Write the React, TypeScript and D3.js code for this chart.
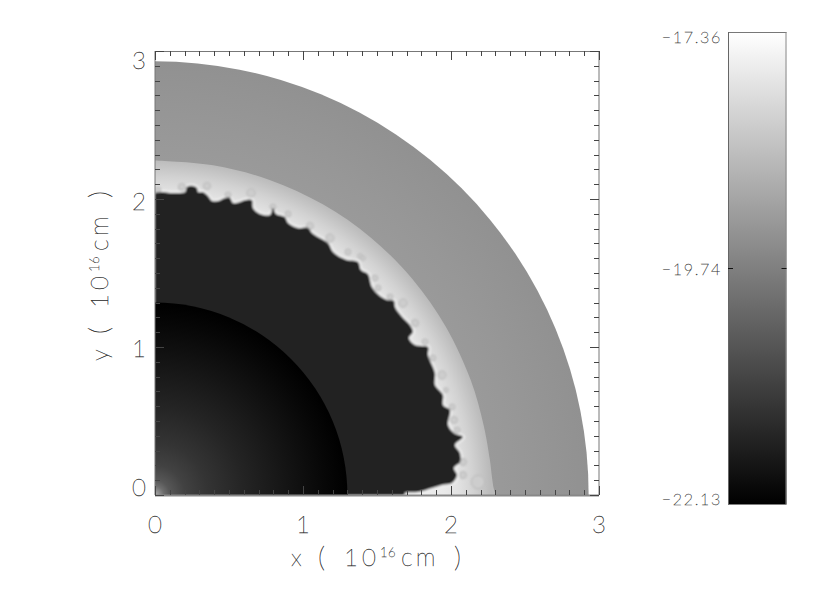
import React from "react";
import * as d3 from "d3";

// Colour bar range (log density)
const cbMin = -22.13;
const cbMax = -17.36;
const cbTicks = [-17.36, -19.74, -22.13];
const axisMajor = [0, 1, 2, 3];
const yTickBaseline = [1, 10, 11, 18];

// Outer envelope and shock
const outerRadius = 2.93;
const coreRadius = 1.3;
const shockAngleDeg = [0, 10, 20, 30, 40, 50, 60, 70, 78, 84, 87, 89, 90];
const shockRadius = [2.26, 2.262, 2.265, 2.268, 2.27, 2.27, 2.27, 2.27, 2.27, 2.275, 2.28, 2.29, 2.305];

// Radial profiles of log density
const coreR = [0, 0.03, 0.06, 0.1, 0.2, 0.35, 0.6, 0.9, 1.15, 1.3];
const coreV = [-18.9, -19.5, -20.1, -20.5, -20.9, -21.15, -21.45, -21.75, -22.0, -22.13];
const windR = [1.3, 1.55, 1.56, 2.1];
const windV = [-21.53, -21.52, -21.5, -21.48];
const shellR = [1.75, 1.95, 2.05, 2.15, 2.27];
const shellV = [-17.7, -17.75, -17.9, -18.2, -18.65];
const envR = [2.26, 2.5, 2.93];
const envV = [-19.25, -19.3, -19.42];

// Contact discontinuity
const contactX = [0, .054, .101, .155, .203, .216, .257, .284, .291, .324, .358, .385, .426, .473, .507, .527, .574, .608, .655, .662, .709, .777, .797, .818, .878, .899, .966, 1.034, 1.061, 1.101, 1.169, 1.203, 1.264, 1.297, 1.372, 1.392, 1.439, 1.466, 1.52, 1.568, 1.615, 1.622, 1.676, 1.723, 1.743, 1.716, 1.757, 1.845, 1.845, 1.892, 1.892, 1.946, 1.946, 1.993, 1.98, 2.02, 2.081, 2.027, 2.061, 2.061, 2.02, 2.041, 2.007, 1.939, 1.872, 1.777, 1.689, 1.689];
const contactY = [2.041, 2.047, 2.041, 2.041, 2.047, 2.081, 2.088, 2.074, 2.047, 2.047, 2.02, 1.986, 1.986, 2.007, 2.007, 1.973, 1.98, 1.993, 1.993, 1.939, 1.899, 1.892, 1.939, 1.899, 1.878, 1.838, 1.804, 1.804, 1.77, 1.743, 1.703, 1.642, 1.601, 1.588, 1.574, 1.52, 1.493, 1.405, 1.345, 1.318, 1.311, 1.27, 1.196, 1.149, 1.101, 1.061, 1.014, 1, .946, .824, .743, .676, .608, .574, .473, .419, .392, .338, .284, .223, .182, .135, .081, .068, .047, .02, .014, 0];

// Small eddies along the contact
const eddyX = [.02, .182, .351, .493, .649, .797, .899, 1.047, 1.182, 1.304, 1.385, 1.405, 1.486, 1.507, 1.588, 1.676, 1.757, 1.824, 1.878, 1.939, 1.966, 2.007, 2.02, 2.041, 2.081, 2.081, 2.182];
const eddyY = [2.06, 2.081, 2.088, 2.027, 2.041, 1.946, 1.899, 1.818, 1.736, 1.642, 1.615, 1.601, 1.466, 1.399, 1.338, 1.297, 1.162, 1.034, .926, .811, .709, .595, .507, .439, .223, .135, .088];
const eddyR = [.02, .024, .024, .02, .028, .02, .02, .024, .028, .02, .016, .016, .02, .02, .02, .028, .024, .02, .02, .028, .016, .02, .024, .02, .024, .024, .045];

const W = 830;
const H = 594;
const x = d3.scaleLinear().domain([0, 3]).range([155, 599]);
const y = d3.scaleLinear().domain([0, 3]).range([495, 51]);
const cbY = d3.scaleLinear().domain([cbMin, cbMax]).range([504.5, 32]);
const cbX = [728, 786.5];
const grey = d3.scaleLinear().domain([cbMin, cbMax]).range([0, 255]).clamp(true);
const col = (v: number) => { const g = Math.round(grey(v)); return `rgb(${g},${g},${g})`; };
const px = (r: number) => x(r) - x(0);

const thin = { fontFamily: "Lato, 'Open Sans', sans-serif", fontWeight: 100, fill: "#222", stroke: "#333", strokeWidth: 0.3 } as const;

const minor = d3.range(0, 3.0001, 0.1);

function Gradient({ id, rs, vs }: { id: string; rs: number[]; vs: number[] }) {
  const R = rs[rs.length - 1];
  return (
    <radialGradient id={id} gradientUnits="userSpaceOnUse" cx={x(0)} cy={y(0)} r={px(R)}>
      {rs.map((r, i) => <stop key={i} offset={r / R} stopColor={col(vs[i])} />)}
    </radialGradient>
  );
}

const labelParts = [
  { t: "x", o: 0, s: 24, d: 0, ls: 0 },
  { t: "(", o: 27, s: 28, d: 1, ls: 0 },
  { t: "10", o: 53, s: 24, d: 0, ls: 4 },
  { t: "16", o: 89, s: 13, d: -9, ls: 0.5 },
  { t: "cm", o: 110, s: 25, d: 0, ls: 3 },
  { t: ")", o: 163, s: 28, d: 1, ls: 0 },
];

export default function App() {
  const shockPts = shockAngleDeg.map((a, i) => {
    const t = a * Math.PI / 180;
    return [x(shockRadius[i] * Math.sin(t)), y(shockRadius[i] * Math.cos(t))] as [number, number];
  });
  const shock = d3.line().curve(d3.curveCatmullRom)(shockPts) + `L${x(0)},${y(0)}Z`;
  const contactPts = contactX.map((c, i) => [x(c), y(contactY[i])] as [number, number]);
  const contactLine = d3.line().curve(d3.curveCatmullRom)(contactPts)!;
  const dark = contactLine + `L${x(0)},${y(0)}L${x(0)},${y(contactY[0])}Z`;
  return (
    <svg width={W} height={H} style={{ position: "absolute", left: 0, top: 0, background: "#fff" }}>
      <defs>
        <Gradient id="env" rs={envR} vs={envV} />
        <Gradient id="shell" rs={shellR} vs={shellV} />
        <Gradient id="wind" rs={windR} vs={windV} />
        <Gradient id="core" rs={coreR} vs={coreV} />
        <linearGradient id="cb" x1="0" x2="0" y1="1" y2="0">
          <stop offset="0" stopColor={col(cbMin)} />
          <stop offset="1" stopColor={col(cbMax)} />
        </linearGradient>
        <clipPath id="plot"><rect x={x(0)} y={y(3)} width={x(3) - x(0)} height={y(0) - y(3)} /></clipPath>
        <filter id="soft" x="-5%" y="-5%" width="110%" height="110%"><feGaussianBlur stdDeviation="0.8" /></filter>
      </defs>

      <g clipPath="url(#plot)">
        <circle cx={x(0)} cy={y(0)} r={px(outerRadius)} fill="url(#env)" />
        <path d={shock} fill="url(#shell)" />
        <g filter="url(#soft)">
          <path d={contactLine} fill="none" stroke={col(-17.6)} strokeWidth={4} />
          {eddyX.map((c, i) => (
            <circle key={i} cx={x(c)} cy={y(eddyY[i])} r={px(eddyR[i])} fill={col(-18.3)} stroke={col(-18.7)} strokeWidth={1} />
          ))}
          <path d={dark} fill="url(#wind)" />
        </g>
        <circle cx={x(0)} cy={y(0)} r={px(coreRadius)} fill="url(#core)" />
      </g>

      {/* axes */}
      <g fill="none" stroke="#777" strokeWidth={1}>
        <line x1={x(0)} x2={x(3)} y1={y(3) + 0.5} y2={y(3) + 0.5} />
        <line x1={x(0)} x2={x(0)} y1={y(3)} y2={y(0)} />
        <line x1={x(3)} x2={x(3)} y1={y(3)} y2={y(0)} />
        <line x1={x(0)} x2={x(3)} y1={y(0) + 0.5} y2={y(0) + 0.5} strokeWidth={2} stroke="#888" />
      </g>
      <g stroke="#444" strokeWidth={1}>
        {minor.map((t, i) => {
          const len = i % 10 === 0 ? 9 : 5;
          const xp = Math.round(x(t)) + 0.5;
          const yp = Math.round(y(t)) + 0.5;
          return (
            <g key={i}>
              <line x1={xp} x2={xp} y1={y(0)} y2={y(0) - len} />
              <line x1={xp} x2={xp} y1={y(3)} y2={y(3) + len} />
              <line y1={yp} y2={yp} x1={x(0)} x2={x(0) + len} />
              <line y1={yp} y2={yp} x1={x(3)} x2={x(3) - len} />
            </g>
          );
        })}
      </g>
      {axisMajor.map(t => (
        <text key={`x${t}`} x={x(t)} y={533} textAnchor="middle" fontSize={24} style={thin}>{t}</text>
      ))}
      {axisMajor.map((t, i) => (
        <text key={`y${t}`} x={139} y={y(t) + yTickBaseline[i]} textAnchor="middle" fontSize={24} style={thin}>{t}</text>
      ))}

      {/* axis titles */}
      <g transform="translate(291,566)">
        {labelParts.map((p, i) => <text key={i} x={p.o} y={p.d} fontSize={p.s} letterSpacing={p.ls} style={thin}>{p.t}</text>)}
      </g>
      <g transform="translate(108,361) rotate(-90)">
        {labelParts.map((p, i) => <text key={i} x={p.o} y={p.d} fontSize={p.s} letterSpacing={p.ls} style={thin}>{p.t === "x" ? "y" : p.t}</text>)}
      </g>

      {/* colour bar */}
      <rect x={cbX[0]} y={cbY(cbMax)} width={cbX[1] - cbX[0]} height={cbY(cbMin) - cbY(cbMax)} fill="url(#cb)" />
      <line x1={cbX[0]} x2={cbX[1]} y1={cbY(cbMax) + 0.5} y2={cbY(cbMax) + 0.5} stroke="#777" />
      <line x1={cbX[0] + 0.5} x2={cbX[0] + 0.5} y1={cbY(cbMax)} y2={cbY(cbMin)} stroke="#666" />
      <line x1={cbX[1] - 0.5} x2={cbX[1] - 0.5} y1={cbY(cbMax)} y2={cbY(cbMin)} stroke="#888" />
      <g stroke="#111">
        <line x1={cbX[0]} x2={cbX[0] + 5} y1={268.5} y2={268.5} />
        <line x1={cbX[1] - 5} x2={cbX[1]} y1={268.5} y2={268.5} />
      </g>
      {cbTicks.map((t, i) => (
        <text key={i} x={722} y={cbY(t) + [11, 7, 0.5][i]} textAnchor="end" fontSize={16} letterSpacing={1.7} style={thin}>
          {"\u2212" + Math.abs(t).toFixed(2)}
        </text>
      ))}
    </svg>
  );
}
